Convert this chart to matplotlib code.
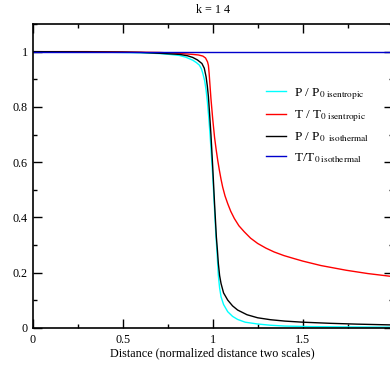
import matplotlib
matplotlib.use("Agg")
import matplotlib.pyplot as plt
from matplotlib.ticker import MultipleLocator

plt.rcParams['font.family'] = ['Liberation Serif', 'DejaVu Serif']
plt.rcParams['mathtext.fontset'] = 'stix'

# P / P0 isentropic (cyan)
x_p_isen = [0, 0.3, 0.5, 0.6, 0.705, 0.76, 0.816, 0.85, 0.889, 0.91, 0.926, 0.937, 0.945,
            0.955, 0.963, 0.97, 0.978, 0.985, 0.992, 1.0, 1.009, 1.017, 1.024, 1.031, 1.038,
            1.046, 1.06, 1.083, 1.11, 1.138, 1.18, 1.249, 1.32, 1.4, 1.55, 1.75, 2.0]
p_isen = [1.0, 0.999, 0.997, 0.996, 0.993, 0.99, 0.986, 0.98, 0.969, 0.96, 0.951, 0.938, 0.921,
          0.895, 0.861, 0.82, 0.76, 0.70, 0.63, 0.55, 0.44, 0.34, 0.27, 0.19, 0.145,
          0.113, 0.085, 0.059, 0.042, 0.031, 0.021, 0.0145, 0.01, 0.007, 0.005, 0.004, 0.003]

# T / T0 isentropic (red)
x_t_isen = [0, 0.3, 0.5, 0.705, 0.8, 0.889, 0.92, 0.945, 0.96, 0.971, 0.976, 0.98, 0.985,
            0.99, 1.0, 1.01, 1.019, 1.028, 1.037, 1.046, 1.055, 1.068, 1.083, 1.1, 1.12,
            1.145, 1.175, 1.21, 1.249, 1.295, 1.341, 1.395, 1.452, 1.5, 1.6, 1.74, 1.86, 2.0]
t_isen = [1.0, 1.0, 0.999, 0.997, 0.994, 0.99, 0.988, 0.984, 0.977, 0.963, 0.95, 0.921, 0.875,
          0.83, 0.755, 0.69, 0.645, 0.605, 0.57, 0.538, 0.51, 0.478, 0.45, 0.422, 0.396,
          0.37, 0.348, 0.325, 0.306, 0.289, 0.275, 0.262, 0.251, 0.242, 0.226, 0.209, 0.197, 0.186]

# P / P0 isothermal (black)
x_p_iso = [0, 0.3, 0.5, 0.6, 0.705, 0.816, 0.86, 0.889, 0.915, 0.94, 0.953, 0.963, 0.97,
           0.976, 0.983, 0.99, 1.0, 1.01, 1.02, 1.026, 1.031, 1.038, 1.046, 1.06, 1.083,
           1.11, 1.138, 1.19, 1.249, 1.32, 1.4, 1.5, 1.65, 1.8, 2.0]
p_iso = [1.0, 0.999, 0.998, 0.997, 0.994, 0.99, 0.985, 0.979, 0.97, 0.957, 0.94, 0.909, 0.875,
         0.837, 0.77, 0.70, 0.58, 0.45, 0.33, 0.28, 0.234, 0.19, 0.161, 0.127, 0.101,
         0.08, 0.065, 0.048, 0.037, 0.03, 0.025, 0.021, 0.017, 0.014, 0.011]

# T / T0 isothermal (blue)
x_t_iso = [0, 2.0]
t_iso = [1, 1]

fig = plt.figure(figsize=(3.9, 3.65), dpi=100)
ax = fig.add_axes([32.5 / 390, 37 / 365, 360.5 / 390, 304 / 365])

ax.plot(x_p_isen, p_isen, color="#00ffff", lw=1.0, label=r"P / P$_{\rm 0\ isentropic}$")
ax.plot(x_t_isen, t_isen, color="#ff0000", lw=1.0, label=r"T / T$_{\rm 0\ isentropic}$")
ax.plot(x_p_iso, p_iso, color="#000000", lw=1.0, label=r"P / P$_{\rm 0\ \ isothermal}$")
ax.plot(x_t_iso, t_iso, color="#0000cc", lw=1.0, label=r"T/T$_{\rm 0\ isothermal}$")

ax.set_xlim(0, 2)
ax.set_ylim(0, 1.1)
ax.xaxis.set_minor_locator(MultipleLocator(0.25))
ax.yaxis.set_minor_locator(MultipleLocator(0.1))
ax.set_xticks([0, 0.5, 1, 1.5])
ax.set_xticklabels(["0", "0.5", "1", "1.5"])
ax.set_yticks([0, 0.2, 0.4, 0.6, 0.8, 1])
ax.set_yticklabels(["0", "0.2", "0.4", "0.6", "0.8", "1"])
ax.tick_params(which="both", direction="in", top=True, right=True, labelsize=8.7, width=1.0)
ax.tick_params(which="major", length=6.5)
ax.tick_params(axis="x", which="major", pad=4)
ax.tick_params(which="minor", length=3.2)
for s in ax.spines.values():
    s.set_linewidth(1.2)

ax.set_title("k = 1 4", fontsize=8.7, pad=8)
ax.set_xlabel("Distance (normalized distance two scales)", fontsize=8.7, labelpad=1)

ax.legend(loc="upper left", bbox_to_anchor=(0.615, 0.835), frameon=False, fontsize=9.5,
          handlelength=1.5, handletextpad=0.65, labelspacing=0.5)

fig.savefig("out.png", dpi=100)
